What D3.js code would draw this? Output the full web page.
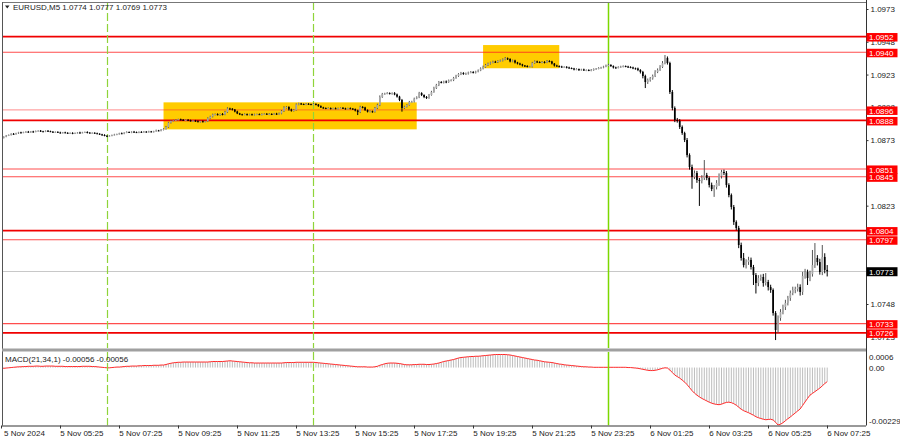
<!DOCTYPE html>
<html><head><meta charset="utf-8">
<script src="https://cdn.jsdelivr.net/npm/d3@7"></script>
<style>
html,body{margin:0;padding:0;background:#fff;}
svg{display:block;}
text{font-family:"Liberation Sans",Arial,sans-serif;font-size:8px;}
</style>
</head><body>
<svg id="c" width="900" height="441"></svg>
<script>
// ---------------- DATA ----------------
const symbol = "EURUSD,M5";
const lastQuote = ["1.0774", "1.0777", "1.0769", "1.0773"];
const macdTitle = "MACD(21,34,1) -0.00056 -0.00056";
const pipBase = 1.07;          // prices below are pips above 1.0700
const firstOpenPips = 174.5;   // open of first visible bar (5 Nov 03:25)
// close of every M5 bar, 5 Nov 03:25 .. 6 Nov 07:25, in pips above 1.0700
const closePips = [
174.8,175.6,176.4,177.0,177.8,177.5,178.3,178.9,178.6,179.1,
179.4,179.0,179.6,179.3,179.9,180.2,179.7,179.5,180.1,179.8,
179.4,179.0,179.3,178.8,178.5,178.9,178.6,178.2,178.5,178.1,
178.4,178.8,178.5,178.9,179.2,178.7,178.4,178.6,178.2,177.9,
177.4,176.9,176.3,176.0,176.4,176.8,177.3,177.6,178.2,178.0,
178.7,179.2,178.9,179.4,179.1,178.8,179.3,179.0,179.5,179.2,
179.6,179.3,179.8,180.4,180.1,180.9,181.5,
183.0,186.3,187.6,188.0,188.5,188.9,188.5,188.1,188.5,188.0,
187.6,187.9,187.4,187.0,187.4,187.0,187.3,189.6,191.0,192.5,
192.8,192.3,192.9,192.5,194.4,197.1,196.9,196.3,194.8,193.3,
192.7,192.4,192.8,192.4,192.7,192.3,192.6,192.8,192.5,192.8,
193.1,192.7,193.0,192.6,193.2,192.8,193.3,195.2,197.9,198.3,
196.4,195.4,196.0,200.2,200.9,200.5,200.3,200.7,200.4,200.2,
200.6,200.1,198.9,197.9,197.5,197.1,197.4,197.0,197.3,197.0,
197.3,197.6,197.2,196.9,197.3,197.0,196.7,195.6,194.4,198.3,
197.9,196.0,194.7,195.0,194.6,197.5,199.8,205.9,208.2,208.5,
208.9,208.4,208.8,207.8,206.2,203.6,197.5,198.5,199.8,202.1,
202.4,204.7,205.6,208.9,207.4,205.9,205.1,207.4,209.7,212.7,
215.0,217.3,216.9,217.7,217.3,218.5,218.8,220.4,221.9,223.4,
224.2,223.4,223.8,224.6,224.9,224.6,225.3,226.1,227.6,228.8,
230.3,231.4,232.2,232.8,232.6,233.3,233.7,234.5,235.4,234.9,
233.0,233.7,232.2,231.4,230.7,229.9,229.5,229.1,229.1,231.8,
233.0,232.6,232.2,232.6,232.2,233.3,233.0,231.4,229.9,229.5,
229.1,228.8,228.9,228.4,228.0,227.6,226.9,227.2,226.5,226.9,
226.3,226.5,226.1,226.6,227.2,227.6,228.0,228.4,229.1,229.9,
230.3,229.5,228.4,228.2,228.8,229.1,229.5,229.1,228.8,228.4,
227.8,227.6,226.5,225.0,221.9,217.3,218.8,220.1,221.9,225.0,
226.5,228.8,231.8,235.6,231.8,209.7,197.5,188.3,187.6,183.0,
178.4,173.1,161.6,152.5,144.9,147.9,142.6,141.8,144.1,146.4,
144.1,138.8,135.7,137.2,140.3,145.6,148.7,147.9,138.8,131.1,
122.0,110.5,106.0,93.0,83.1,77.7,80.0,81.6,76.2,70.1,
64.0,67.8,68.6,64.0,64.8,60.9,58.7,41.1,28.2,37.3,
41.9,45.7,48.8,52.6,56.4,58.7,59.4,60.9,57.2,69.4,
72.4,67.8,70.8,77.7,83.1,80.0,72.4,83.9,74.0,73.0
];
// upper wick above the body of each bar, pips
const upperWickPips = [
0.4,0.3,0.5,0.3,0.4,0.6,0.3,0.4,0.5,0.3,
0.4,0.6,0.3,0.5,0.4,0.3,0.5,0.4,0.3,0.6,
0.4,0.5,0.3,0.4,0.6,0.3,0.5,0.4,0.3,0.5,
0.4,0.3,0.6,0.4,0.3,0.5,0.4,0.3,0.4,0.5,
0.3,0.4,0.6,0.5,0.3,0.4,0.5,0.3,0.4,0.6,
0.3,0.5,0.4,0.3,0.6,0.4,0.3,0.5,0.4,0.3,
0.5,0.4,0.3,0.6,0.4,0.5,0.6,
0.8,0.6,0.7,0.5,0.6,0.4,0.5,0.6,0.4,0.5,
0.6,0.4,0.5,0.7,0.4,0.6,0.5,0.8,0.6,0.7,
0.5,0.6,0.4,0.7,0.9,1.0,0.6,0.5,0.4,0.6,
0.5,0.4,0.6,0.5,0.4,0.5,0.6,0.4,0.5,0.6,
0.4,0.5,0.6,0.4,0.5,0.6,0.7,0.8,0.9,0.6,
0.5,0.6,0.7,0.8,0.6,0.5,0.4,0.6,0.5,0.4,
0.6,0.5,0.4,0.6,0.5,0.4,0.6,0.5,0.4,0.6,
0.5,0.4,0.6,0.5,0.4,0.6,0.5,0.4,0.6,0.9,
0.6,0.5,0.4,0.6,0.5,0.8,1.0,1.2,0.8,0.6,
0.7,0.5,0.6,0.8,0.7,0.6,0.8,0.7,0.6,0.8,
0.6,0.7,0.8,0.9,0.6,0.5,0.7,0.8,0.9,1.0,
0.9,0.8,0.7,0.6,0.8,0.7,0.6,0.8,0.9,0.7,
0.8,0.6,0.7,0.6,0.8,0.7,0.6,0.8,0.9,1.0,
0.8,0.7,0.6,0.8,0.7,0.6,0.7,0.8,1.0,0.6,
0.5,0.7,0.6,0.5,0.6,0.5,0.4,0.6,0.5,0.9,
0.8,0.6,0.5,0.7,0.6,0.8,0.6,0.5,0.4,0.6,
0.5,0.6,0.4,0.5,0.6,0.4,0.5,0.6,0.4,0.5,
0.6,0.4,0.5,0.6,0.5,0.4,0.6,0.5,0.6,0.7,
0.9,0.6,0.5,0.6,0.5,0.6,0.5,0.4,0.6,0.5,
0.6,0.5,0.7,0.6,0.8,1.0,1.2,1.0,1.1,1.3,
1.2,1.4,1.5,2.3,1.2,1.0,1.5,1.2,1.6,1.4,
1.2,1.0,1.5,1.3,1.8,2.0,1.6,1.5,2.2,11.4,
1.6,1.2,1.8,1.5,2.2,2.0,1.6,1.8,1.5,1.3,
1.2,1.5,1.3,1.6,1.8,3.8,2.1,2.4,1.8,1.6,
1.5,2.2,1.9,2.4,6.8,1.6,1.8,1.2,1.5,2.0,
2.2,1.8,2.4,1.6,1.9,2.5,1.8,2.6,2.1,3.1,
2.4,1.8,2.6,11.5,11.4,2.2,2.5,9.1,2.8,3.7
];
// lower wick below the body of each bar, pips
const lowerWickPips = [
0.3,0.5,0.4,0.3,0.5,0.4,0.3,0.6,0.4,0.3,
0.5,0.3,0.4,0.6,0.3,0.4,0.5,0.3,0.4,0.5,
0.3,0.4,0.6,0.3,0.5,0.4,0.3,0.5,0.4,0.6,
0.3,0.4,0.5,0.3,0.4,0.6,0.3,0.5,0.4,0.3,
0.5,0.6,0.4,0.7,0.3,0.4,0.3,0.5,0.4,0.3,
0.5,0.4,0.3,0.6,0.4,0.3,0.5,0.4,0.3,0.5,
0.4,0.3,0.5,0.4,0.3,0.4,0.5,
0.5,0.6,0.7,0.5,0.4,0.6,0.5,0.4,0.6,0.5,
0.4,0.6,0.5,0.4,0.6,0.5,0.4,0.5,0.6,0.7,
0.6,0.5,0.7,0.6,0.5,0.6,0.8,0.7,0.6,0.5,
0.6,0.5,0.4,0.6,0.5,0.4,0.6,0.5,0.4,0.6,
0.5,0.4,0.6,0.5,0.4,0.6,0.5,0.6,0.7,0.8,
0.9,0.7,0.6,0.5,0.6,0.5,0.4,0.6,0.5,0.4,
0.5,0.6,0.5,0.4,0.6,0.5,0.4,0.6,0.5,0.4,
0.6,0.5,0.4,0.6,0.5,0.4,0.6,0.7,2.3,0.8,
0.7,0.8,0.6,0.5,0.7,0.6,0.8,0.9,0.7,0.6,
0.5,0.6,0.7,0.6,0.8,0.9,2.8,0.7,0.6,0.5,
0.6,0.7,0.5,0.6,0.8,0.9,0.7,0.6,0.5,0.6,
0.7,0.8,0.6,0.7,0.9,0.6,0.7,0.8,0.6,0.7,
0.8,0.6,0.7,0.8,0.6,0.7,0.8,0.6,0.5,0.7,
0.6,0.7,0.8,0.6,0.7,0.8,0.6,0.7,0.6,0.8,
0.7,0.6,0.8,0.7,0.6,0.8,0.7,0.6,0.5,0.7,
0.6,0.7,0.5,0.6,0.7,0.5,0.6,0.7,0.8,0.6,
0.7,0.6,0.5,0.7,0.6,0.5,0.7,0.6,0.8,0.5,
0.6,0.7,0.5,0.6,0.7,0.5,0.6,0.5,0.6,0.5,
0.6,0.7,0.8,0.6,0.5,0.7,0.6,0.5,0.7,0.6,
0.7,0.8,0.9,1.2,1.8,4.6,1.5,1.2,1.0,0.8,
0.9,0.7,0.8,1.0,1.2,1.5,1.8,1.6,1.3,1.5,
1.4,1.6,1.8,2.0,9.0,1.6,2.2,19.0,1.8,1.5,
1.7,1.9,1.6,6.0,1.8,2.2,1.9,1.6,2.0,1.7,
1.9,2.2,1.8,2.4,2.0,1.8,2.6,2.2,1.9,7.6,
8.0,2.4,2.1,2.8,1.9,2.6,2.2,2.0,7.7,2.4,
2.1,1.8,2.3,1.9,2.2,1.7,2.5,1.9,2.8,2.3,
2.1,5.3,2.4,1.9,2.2,2.6,2.0,2.4,2.6,4.0
];
// MACD(21,34,1) main value per bar, in units of 0.00001
const macdValues = [
-4,-3,-2,-1,0,1,2,3,3,4,
4,5,5,5,6,6,5,5,6,6,
6,6,5,5,5,5,4,4,4,4,
4,4,4,5,5,5,5,4,4,3,
2,1,0,-1,-1,0,1,2,2,3,
4,5,5,6,6,6,7,7,8,8,
8,8,9,9,9,10,10,
12,15,17,19,20,21,21,22,22,22,
22,22,22,22,22,22,22,22,23,24,
24,24,24,24,25,26,27,26,25,24,
23,22,21,20,19,19,18,18,18,18,
18,18,18,18,18,18,18,18,19,20,
20,20,20,21,21,21,21,21,21,21,
21,20,19,18,17,16,15,14,13,12,
11,10,9,8,7,6,5,4,3,3,
3,3,2,2,2,3,5,9,12,15,
17,18,18,18,17,16,14,12,11,11,
11,12,12,13,13,13,12,12,13,14,
16,18,21,24,26,28,30,32,35,38,
40,41,42,43,44,44,45,45,46,47,
48,49,50,51,52,52,52,52,52,51,
50,48,46,44,42,40,38,36,34,32,
30,29,27,25,23,22,21,20,18,16,
14,13,11,10,9,8,7,6,5,4,
3,3,2,2,1,1,1,1,1,1,
1,1,1,1,1,1,1,1,0,0,
-1,-2,-3,-5,-7,-9,-11,-12,-12,-11,
-9,-6,-3,-1,-2,-10,-20,-30,-36,-42,
-50,-58,-68,-80,-92,-102,-110,-117,-123,-128,
-133,-138,-142,-145,-147,-148,-146,-142,-139,-138,
-140,-144,-150,-158,-166,-172,-176,-180,-185,-190,
-196,-200,-203,-206,-208,-207,-206,-209,-218,-229,
-226,-220,-212,-204,-197,-189,-181,-173,-165,-151,
-137,-123,-110,-103,-96,-89,-82,-73,-64,-56
];
// horizontal support / resistance levels
const levelPrices = [1.0952, 1.0940, 1.0896, 1.0888, 1.0851, 1.0845, 1.0804, 1.0797, 1.0733, 1.0726];
const levelKinds  = ["strong","thin","faint","strong","thin","thin","strong","thin","thin","strong"];
// highlighted zones: bar index from/to and price bounds
const zoneFromBar = [66, 196];
const zoneToBar   = [169, 227];
const zoneHigh    = [1.09018, 1.09455];
const zoneLow     = [1.08812, 1.09278];
// vertical markers (bar index)
const sessionBars = [43, 127];   // 5 Nov 07:00, 14:00
const dayStartBar = 247;         // 6 Nov 00:00
const bidPrice = 1.0773;
// axis ticks (labels fully hidden under the level boxes are left out)
const priceTicks = [1.0973, 1.0948, 1.0923, 1.0898, 1.0873, 1.0823, 1.0748, 1.0723];
const macdTicks = [0.0006, 0.0, -0.00229];
const macdTickLabels = ["0.0006", "0.00", "-0.00229"];
const timeTickBars = [0, 24, 48, 72, 96, 120, 144, 168, 192, 216, 240, 264, 288, 312, 336];
const timeTickLabels = ["5 Nov 2024", "5 Nov 05:25", "5 Nov 07:25", "5 Nov 09:25", "5 Nov 11:25",
  "5 Nov 13:25", "5 Nov 15:25", "5 Nov 17:25", "5 Nov 19:25", "5 Nov 21:25", "5 Nov 23:25",
  "6 Nov 01:25", "6 Nov 03:25", "6 Nov 05:25", "6 Nov 07:25"];

// ---------------- BUILD ----------------
const toPrice = p => pipBase + p / 10000;
const bars = closePips.map((c, i) => {
  const o = i === 0 ? firstOpenPips : closePips[i - 1];
  return {
    i,
    o: toPrice(o), c: toPrice(c),
    h: toPrice(Math.max(o, c) + upperWickPips[i]),
    l: toPrice(Math.min(o, c) - lowerWickPips[i]),
    m: macdValues[i] * 1e-5
  };
});

const svg = d3.select("#c");
const L = 2, R = 866, mainT = 2, mainB = 348, macdT = 352, macdB = 425.5;

const x = d3.scaleLinear().domain([0, bars.length - 1]).range([1.3, 827.2]);
const y = d3.scaleLinear().domain([1.0973, 1.0748]).range([9, 304]);
const ym = d3.scaleLinear().domain([0.0006, -0.00229]).range([352.5, 425]);
const px = v => Math.round(v) + 0.5;

svg.append("rect").attr("width", 900).attr("height", 441).attr("fill", "#fff");

const defs = svg.append("defs");
defs.append("clipPath").attr("id", "cm").append("rect")
  .attr("x", L).attr("y", mainT).attr("width", R - L).attr("height", mainB - mainT);
defs.append("clipPath").attr("id", "cd").append("rect")
  .attr("x", L).attr("y", macdT).attr("width", R - L).attr("height", macdB - macdT);

const gm = svg.append("g").attr("clip-path", "url(#cm)");

// zones
gm.selectAll("rect.zone").data(zoneFromBar).join("rect").attr("class", "zone")
  .attr("x", (d, k) => x(d)).attr("width", (d, k) => x(zoneToBar[k]) - x(d))
  .attr("y", (d, k) => y(zoneHigh[k])).attr("height", (d, k) => y(zoneLow[k]) - y(zoneHigh[k]))
  .attr("fill", "#ffcc00");

// bid line
gm.append("line").attr("x1", L).attr("x2", R).attr("y1", px(y(bidPrice))).attr("y2", px(y(bidPrice)))
  .attr("stroke", "#c8c8c8").attr("stroke-width", 1);

// level lines
const lvlStyle = {
  strong: {w: 1.7, c: "#f00000", o: 1},
  thin: {w: 1.1, c: "#ff2020", o: 0.8},
  faint: {w: 1.2, c: "#ff3030", o: 0.45}
};
gm.selectAll("line.lvl").data(levelPrices).join("line").attr("class", "lvl")
  .attr("x1", L).attr("x2", R).attr("y1", d => y(d)).attr("y2", d => y(d))
  .attr("stroke", (d, k) => lvlStyle[levelKinds[k]].c)
  .attr("stroke-opacity", (d, k) => lvlStyle[levelKinds[k]].o)
  .attr("stroke-width", (d, k) => lvlStyle[levelKinds[k]].w);

// vertical markers in both panes
function vmarkers(g, y1, y2) {
  g.selectAll("line.sess").data(sessionBars).join("line").attr("class", "sess")
    .attr("x1", d => px(x(d))).attr("x2", d => px(x(d))).attr("y1", y1).attr("y2", y2)
    .attr("stroke", "#8fd43a").attr("stroke-width", 1.2).attr("stroke-dasharray", "8,3");
  g.append("line").attr("x1", px(x(dayStartBar))).attr("x2", px(x(dayStartBar))).attr("y1", y1).attr("y2", y2)
    .attr("stroke", "#7cd800").attr("stroke-width", 1.5);
}
vmarkers(gm, mainT, mainB);

// candles
const bw = 1.7;
const cg = gm.append("g");
cg.selectAll("line.wick").data(bars).join("line").attr("class", "wick")
  .attr("x1", d => x(d.i)).attr("x2", d => x(d.i))
  .attr("y1", d => y(d.h)).attr("y2", d => y(d.l))
  .attr("stroke", d => d.c >= d.o ? "#555" : "#000").attr("stroke-width", 1);
cg.selectAll("rect.body").data(bars).join("rect").attr("class", "body")
  .attr("x", d => x(d.i) - bw / 2).attr("width", bw)
  .attr("y", d => y(Math.max(d.o, d.c)))
  .attr("height", d => Math.max(1, Math.abs(y(d.o) - y(d.c))))
  .attr("fill", d => d.c >= d.o ? "#a6a6a6" : "#000");

// MACD pane
const gd = svg.append("g").attr("clip-path", "url(#cd)");
gd.selectAll("line.hist").data(bars).join("line").attr("class", "hist")
  .attr("x1", d => x(d.i)).attr("x2", d => x(d.i))
  .attr("y1", ym(0)).attr("y2", d => ym(d.m))
  .attr("stroke", "#bdbdbd").attr("stroke-width", 1);
gd.append("path").datum(bars)
  .attr("d", d3.line().x(d => x(d.i)).y(d => ym(d.m)))
  .attr("fill", "none").attr("stroke", "#ff2a2a").attr("stroke-width", 1);
vmarkers(gd, macdT, macdB);

// frames
svg.append("line").attr("x1", L).attr("x2", R).attr("y1", mainT + 0.5).attr("y2", mainT + 0.5).attr("stroke", "#777");
svg.append("line").attr("x1", L + 0.5).attr("x2", L + 0.5).attr("y1", mainT).attr("y2", macdB).attr("stroke", "#555");
svg.append("rect").attr("x", L).attr("y", mainB + 0.5).attr("width", R - L).attr("height", 3).attr("fill", "#a0a0a0");
svg.append("line").attr("x1", R + 0.5).attr("x2", R + 0.5).attr("y1", 0).attr("y2", macdB).attr("stroke", "#333");
svg.append("line").attr("x1", L).attr("x2", R).attr("y1", macdB + 0.5).attr("y2", macdB + 0.5).attr("stroke", "#333");

// price axis
const pa = svg.append("g").attr("transform", `translate(${R + 0.5},0)`)
  .call(d3.axisRight(y).tickValues(priceTicks).tickFormat(d3.format(".4f")).tickSize(2).tickPadding(2));
pa.select(".domain").remove();
pa.selectAll("text").attr("fill", "#222").style("font-size", "8px");
pa.selectAll("line").attr("stroke", "#333");

// level labels
const lbl = svg.append("g");
lbl.selectAll("rect").data(levelPrices).join("rect")
  .attr("x", R + 0.5).attr("width", 31).attr("y", d => y(d) - 3.5).attr("height", 8.5).attr("fill", "#ff0000");
lbl.selectAll("text").data(levelPrices).join("text")
  .attr("x", R + 3).attr("y", d => y(d) + 3.6).attr("fill", "#fff").text(d => d3.format(".4f")(d));
// current bid label
svg.append("rect").attr("x", R + 0.5).attr("width", 31).attr("y", y(bidPrice) - 4).attr("height", 9).attr("fill", "#000");
svg.append("text").attr("x", R + 3).attr("y", y(bidPrice) + 3.3).attr("fill", "#fff").text(d3.format(".4f")(bidPrice));

// macd axis labels
svg.selectAll("text.mt").data(macdTicks).join("text").attr("class", "mt")
  .attr("x", R + 3)
  .attr("y", (d, k) => k === 0 ? ym(d) + 7 : (k === macdTicks.length - 1 ? ym(d) - 1 : ym(d) + 3))
  .attr("fill", "#222").text((d, k) => macdTickLabels[k]);

// time axis
const ta = svg.append("g");
ta.selectAll("line").data(timeTickBars).join("line")
  .attr("x1", d => px(x(d))).attr("x2", d => px(x(d))).attr("y1", macdB).attr("y2", macdB + 3).attr("stroke", "#333");
ta.selectAll("text").data(timeTickBars).join("text")
  .attr("x", d => Math.max(4, x(d))).attr("y", 436).attr("fill", "#222")
  .text((d, k) => timeTickLabels[k]);

// header
svg.append("path").attr("d", "M5,5.5 L9.5,5.5 L7.25,8.5 Z").attr("fill", "#222");
svg.append("text").attr("x", 13).attr("y", 10).attr("fill", "#222")
  .text(symbol + "  " + lastQuote.join(" "));
svg.append("text").attr("x", 5).attr("y", 362).attr("fill", "#222").text(macdTitle);
</script>
</body></html>
